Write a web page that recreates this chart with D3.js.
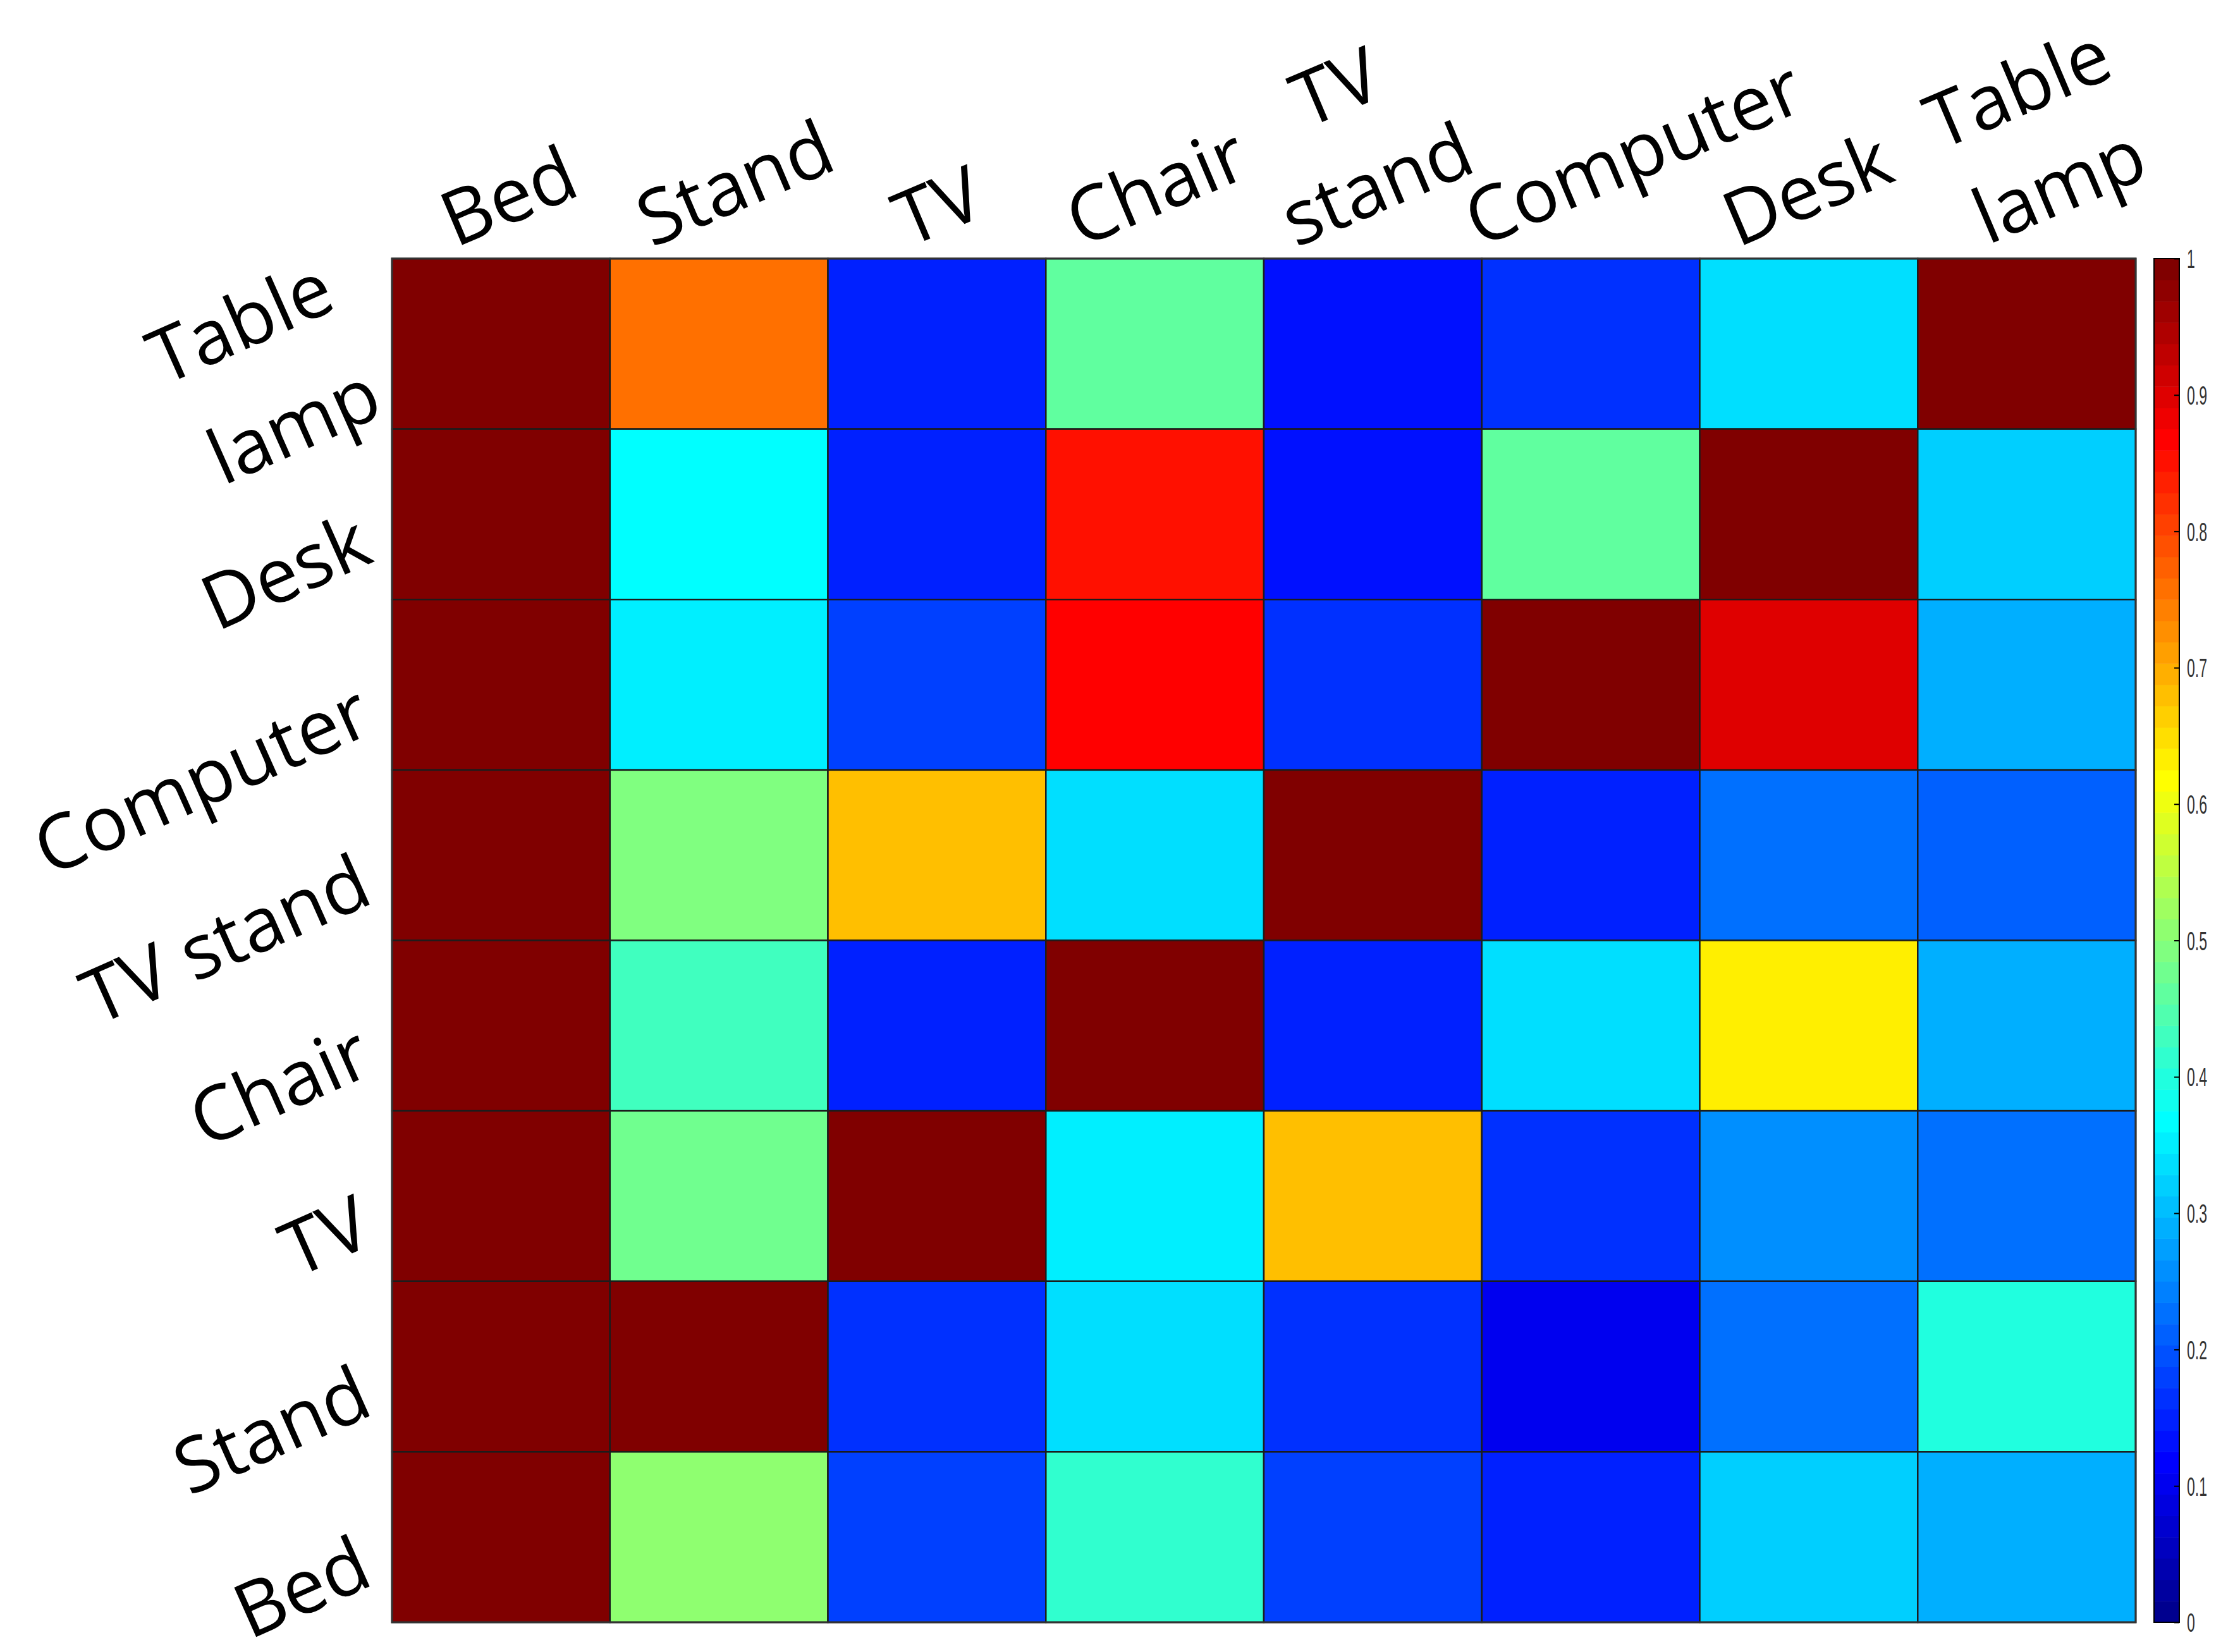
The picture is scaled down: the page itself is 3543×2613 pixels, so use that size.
<!DOCTYPE html>
<html>
<head>
<meta charset="utf-8">
<script src="https://cdn.jsdelivr.net/npm/d3@7"></script>
<style>
  html, body { margin: 0; padding: 0; background: #ffffff; }
  svg { display: block; }
</style>
</head>
<body>
<script>
// ---------------- DATA ----------------
const columns = ["Bed", "Stand", "TV", "Chair", "TV stand", "Computer", "Desk", "Table lamp"];
const rowsTopToBottom = ["Table lamp", "Desk", "Computer", "TV stand", "Chair", "TV", "Stand", "Bed"];

// x tick labels (top), split into lines
const xTickLabels = [["Bed"], ["Stand"], ["TV"], ["Chair"], ["TV", "stand"], ["Computer"], ["Desk"], ["Table", "lamp"]];
// y tick labels (left), split into lines, top to bottom
const yTickLabels = [["Table", "lamp"], ["Desk"], ["Computer"], ["TV stand"], ["Chair"], ["TV"], ["Stand"], ["Bed"]];

// values per row (columns order: Bed, Stand, TV, Chair, TV stand, Computer, Desk, Table lamp)
const rowTableLamp = [1.00, 0.765, 0.156, 0.457, 0.133, 0.165, 0.343, 1.00];
const rowDesk      = [1.00, 0.365, 0.150, 0.850, 0.130, 0.455, 1.00, 0.313];
const rowComputer  = [1.00, 0.350, 0.180, 0.870, 0.165, 1.00, 0.900, 0.290];
const rowTVStand   = [1.00, 0.490, 0.680, 0.340, 1.00, 0.150, 0.228, 0.213];
const rowChair     = [1.00, 0.425, 0.150, 1.00, 0.145, 0.330, 0.640, 0.290];
const rowTV        = [1.00, 0.475, 1.00, 0.358, 0.680, 0.170, 0.263, 0.228];
const rowStand     = [1.00, 1.00, 0.170, 0.343, 0.170, 0.103, 0.220, 0.406];
const rowBed       = [1.00, 0.505, 0.180, 0.415, 0.180, 0.156, 0.313, 0.283];
const matrix = [rowTableLamp, rowDesk, rowComputer, rowTVStand, rowChair, rowTV, rowStand, rowBed];

const colorbarTicks = [0, 0.1, 0.2, 0.3, 0.4, 0.5, 0.6, 0.7, 0.8, 0.9, 1];

// ---------------- LAYOUT ----------------
const W = 3543, H = 2613;
const plot = { left: 620, right: 3378, top: 409, bottom: 2566 };
const cbar = { left: 3407, right: 3447 };
const labelFont = "'Open Sans', 'Noto Sans', sans-serif";
const labelSize = 120;
const xRot = -23, yRot = -24;
const xLineH = 167, yLineH = 183;
const xLabelNudge = [0, 0, 0, -20, -18, 10, -22, 28];

// MATLAB jet(64)
function makeJet(m) {
  const n = Math.ceil(m / 4);
  const u = [];
  for (let i = 1; i <= n; i++) u.push(i / n);
  for (let i = 0; i < n - 1; i++) u.push(1);
  for (let i = n; i >= 1; i--) u.push(i / n);
  const g0 = Math.ceil(n / 2) - (m % 4 === 1 ? 1 : 0);
  const J = d3.range(m).map(() => [0, 0, 0]);
  u.forEach((val, k) => {
    const gi = g0 + k + 1;      // 1-based
    const ri = gi + n, bi = gi - n;
    if (gi >= 1 && gi <= m) J[gi - 1][1] = val;
    if (ri >= 1 && ri <= m) J[ri - 1][0] = val;
    if (bi >= 1 && bi <= m) J[bi - 1][2] = val;
  });
  return J.map(c => d3.rgb(c[0] * 255, c[1] * 255, c[2] * 255).formatHex());
}
const jet = makeJet(64);
const colorIndex = d3.scaleQuantize().domain([0, 1]).range(d3.range(64));
const color = v => jet[colorIndex(Math.min(0.99999, Math.max(0, v)))];

// ---------------- DRAW ----------------
const svg = d3.select("body").append("svg").attr("width", W).attr("height", H);
svg.append("rect").attr("width", W).attr("height", H).attr("fill", "#fff");

const x = d3.scaleBand().domain(columns).range([plot.left, plot.right]).padding(0);
const y = d3.scaleBand().domain(rowsTopToBottom).range([plot.top, plot.bottom]).padding(0);

const cells = [];
rowsTopToBottom.forEach((r, ri) => columns.forEach((c, ci) => cells.push({ r, c, v: matrix[ri][ci] })));

svg.append("g").selectAll("rect").data(cells).join("rect")
  .attr("x", d => x(d.c)).attr("y", d => y(d.r))
  .attr("width", x.bandwidth()).attr("height", y.bandwidth())
  .attr("fill", d => color(d.v))
  .attr("stroke", "#1c1c1c").attr("stroke-width", 2.5);

svg.append("rect").attr("x", plot.left).attr("y", plot.top)
  .attr("width", plot.right - plot.left).attr("height", plot.bottom - plot.top)
  .attr("fill", "none").attr("stroke", "#333").attr("stroke-width", 3);

// Y labels
const yl = svg.append("g").attr("font-family", labelFont).attr("font-size", labelSize).attr("fill", "#000");
rowsTopToBottom.forEach((r, i) => {
  const lines = yTickLabels[i];
  const n = lines.length;
  const g = yl.append("g")
    .attr("transform", `translate(594,${y(r) + y.bandwidth() / 2 + 74}) rotate(${yRot})`);
  lines.forEach((t, k) => {
    g.append("text").attr("text-anchor", "end")
      .attr("x", 0).attr("y", (k - (n - 1)) * yLineH + (n > 1 ? 40 : 0))
      .text(t);
  });
});

// X labels (top)
const xl = svg.append("g").attr("font-family", labelFont).attr("font-size", labelSize).attr("fill", "#000");
columns.forEach((c, i) => {
  const lines = xTickLabels[i];
  const n = lines.length;
  const g = xl.append("g");
  const texts = lines.map((t, k) => g.append("text").attr("text-anchor", "middle")
      .attr("y", -(n - 1 - k) * xLineH).text(t));
  const Lmax = d3.max(texts, tx => tx.node().getComputedTextLength());
  texts.forEach(tx => tx.attr("x", Lmax / 2));
  const cx = x(c) + x.bandwidth() / 2;
  const sx = cx - 0.33 * Lmax + xLabelNudge[i];
  g.attr("transform", `translate(${sx},392) rotate(${xRot})`);
});

// Colorbar
const cy = d3.scaleLinear().domain([0, 1]).range([plot.bottom, plot.top]);
const cb = svg.append("g");
cb.selectAll("rect").data(d3.range(64)).join("rect")
  .attr("x", cbar.left).attr("width", cbar.right - cbar.left)
  .attr("y", i => cy((i + 1) / 64)).attr("height", i => cy(i / 64) - cy((i + 1) / 64) + 0.5)
  .attr("fill", i => jet[i]);
cb.append("rect").attr("x", cbar.left).attr("y", plot.top)
  .attr("width", cbar.right - cbar.left).attr("height", plot.bottom - plot.top)
  .attr("fill", "none").attr("stroke", "#000").attr("stroke-width", 2);

const axis = d3.axisRight(cy).tickValues(colorbarTicks).tickSize(-8)
  .tickFormat(d3.format("~g"));
const ag = svg.append("g").attr("transform", `translate(${cbar.right},0)`).call(axis);
ag.select(".domain").remove();
ag.selectAll(".tick line").attr("stroke", "#000").attr("stroke-width", 2);
ag.selectAll(".tick text")
  .attr("x", 0).attr("dy", "0.35em")
  .attr("transform", "translate(12,0) scale(0.55,1)")
  .attr("font-family", "'Liberation Sans', Arial, sans-serif")
  .attr("font-size", 42).attr("fill", "#333");
</script>
</body>
</html>
